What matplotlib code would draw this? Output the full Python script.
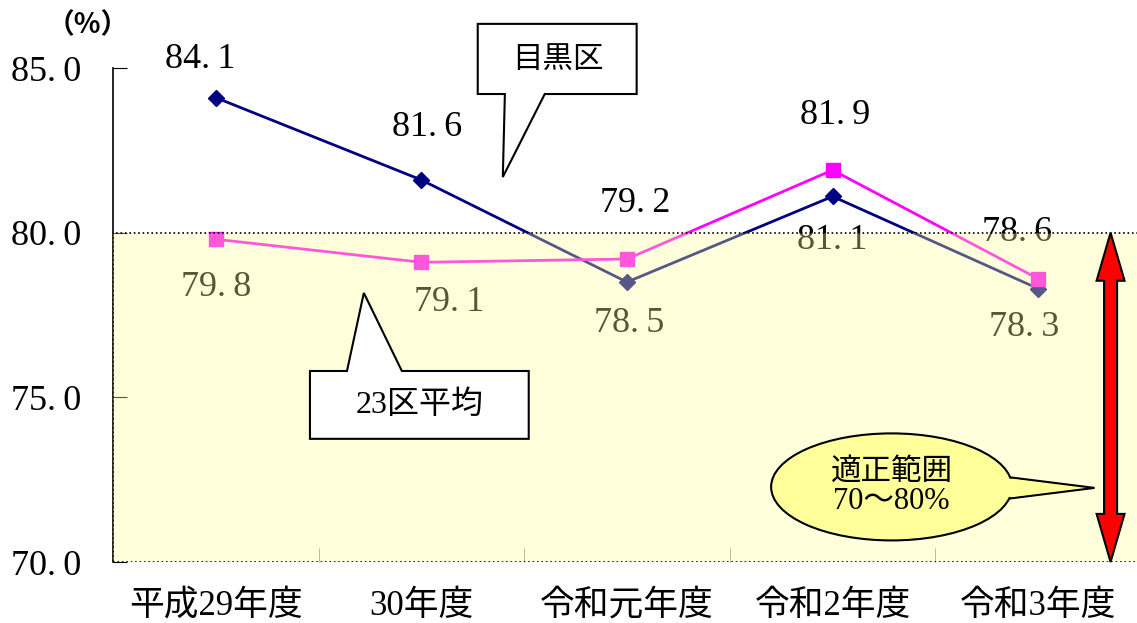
import matplotlib.pyplot as plt
from matplotlib.patches import Rectangle, Polygon, Ellipse

# data
years = ['平成29年度', '30年度', '令和元年度', '令和2年度', '令和3年度']
meguro = [84.1, 81.6, 78.5, 81.1, 78.3]
ku23 = [79.8, 79.1, 79.2, 81.9, 78.6]
# label offsets in pixels (dx, dy)
meguro_off = [(-16, 38), (6, 52), (2, -41), (0, -44), (-14, -39)]
ku23_off = [(0, -48), (28, -40), (8, 56), (3, 55), (-21, 46)]

plt.rcParams['font.family'] = ['Liberation Serif', 'Noto Sans CJK JP', 'DejaVu Sans']


def fmt(v):
    # mimic the wide full-width period of the original font
    return f'{v:.1f}'.replace('.', '.\u2009')


W, H = 1137, 623
fig = plt.figure(figsize=(W / 100, H / 100), dpi=100)
ax = fig.add_axes([113 / W, 61 / H, 1028 / W, 494 / H])

x = list(range(len(years)))
ax.plot(x, meguro, color='#000080', lw=2, marker='D', ms=8, zorder=2)
ax.plot(x, ku23, color='#FF00FF', lw=2, marker='s', ms=10, zorder=2)

for i, v in enumerate(meguro):
    ax.annotate(fmt(v), (i, v), xytext=meguro_off[i], textcoords='offset pixels',
                ha='center', va='center', fontsize=26, zorder=3)
for i, v in enumerate(ku23):
    ax.annotate(fmt(v), (i, v), xytext=ku23_off[i], textcoords='offset pixels',
                ha='center', va='center', fontsize=26, zorder=3)

# proper range shading (semi transparent, over the lines)
ax.add_patch(Rectangle((-0.5, 70), 5, 10, facecolor='#FFFF97', alpha=0.345,
                       edgecolor='none', zorder=4))
ax.add_patch(Rectangle((-0.5, 70), 5, 10, fill=False, edgecolor='black',
                       ls=':', lw=1.2, zorder=4.5))

ax.set_xlim(-0.5, 4.5)
ax.set_ylim(70, 85)
ax.set_yticks([70, 75, 80, 85])
ax.set_yticklabels([fmt(t) for t in [70, 75, 80, 85]], fontsize=26)
ax.tick_params(axis='y', direction='in', length=10, pad=23)
ax.set_xticks(x)
ax.set_xticklabels(years, fontsize=25)
ax.tick_params(axis='x', length=0, pad=20)
ax.set_xticks([0.5, 1.5, 2.5, 3.5], minor=True)
ax.tick_params(axis='x', which='minor', direction='in', length=10, color='#888888')
for s in ['top', 'right', 'bottom']:
    ax.spines[s].set_visible(False)
ax.spines['left'].set_linewidth(1.2)

fig.text(88 / W, 1 - 25 / H, '（%）', fontsize=20, fontweight='bold',
         family=['Noto Sans CJK JP'], ha='center', va='center')

# callout: 目黒区
ax.add_patch(Polygon([(1.274, 86.34), (2.047, 86.34), (2.047, 84.21), (1.600, 84.21),
                      (1.396, 81.69), (1.406, 84.21), (1.274, 84.21)],
                     closed=True, facecolor='white', edgecolor='black', lw=1.5,
                     clip_on=False, zorder=6))
ax.text(1.663, 85.27, '目黒区', fontsize=22, family=['Noto Sans CJK JP'],
        ha='center', va='center', zorder=7, clip_on=False)

# callout: 23区平均
ax.add_patch(Polygon([(0.458, 75.80), (0.638, 75.80), (0.720, 78.17), (0.905, 75.80),
                      (1.522, 75.80), (1.522, 73.74), (0.458, 73.74)],
                     closed=True, facecolor='white', edgecolor='black', lw=1.5,
                     zorder=6))
ax.text(0.992, 74.77, '23区平均', fontsize=23, ha='center', va='center', zorder=7)

# callout: 適正範囲
ax.add_patch(Polygon([(3.80, 72.62), (4.274, 72.25), (3.80, 71.88)],
                     closed=True, facecolor='#FFFF99', edgecolor='black', lw=1.5,
                     zorder=6))
ax.add_patch(Ellipse((3.287, 72.28), 1.172, 3.25, facecolor='#FFFF99',
                     edgecolor='black', lw=1.5, zorder=6.5))
ax.add_patch(Polygon([(3.80, 72.58), (4.2, 72.25), (3.80, 71.92)],
                     closed=True, facecolor='#FFFF99', edgecolor='none', zorder=6.6))
ax.text(3.287, 72.28, '適正範囲\n70～80%', fontsize=22, ha='center', va='center',
        linespacing=1.0, zorder=7)

# red double arrow for 70-80 range
xc, sw, hw, hl = 4.352, 0.0316, 0.068, 1.46
ax.add_patch(Polygon([(xc, 80), (xc + hw, 80 - hl), (xc + sw, 80 - hl), (xc + sw, 70 + hl),
                      (xc + hw, 70 + hl), (xc, 70), (xc - hw, 70 + hl), (xc - sw, 70 + hl),
                      (xc - sw, 80 - hl), (xc - hw, 80 - hl)],
                     closed=True, facecolor='#FF0000', edgecolor='black', lw=1.5,
                     zorder=6, clip_on=False))

fig.savefig('out.png', dpi=100)
